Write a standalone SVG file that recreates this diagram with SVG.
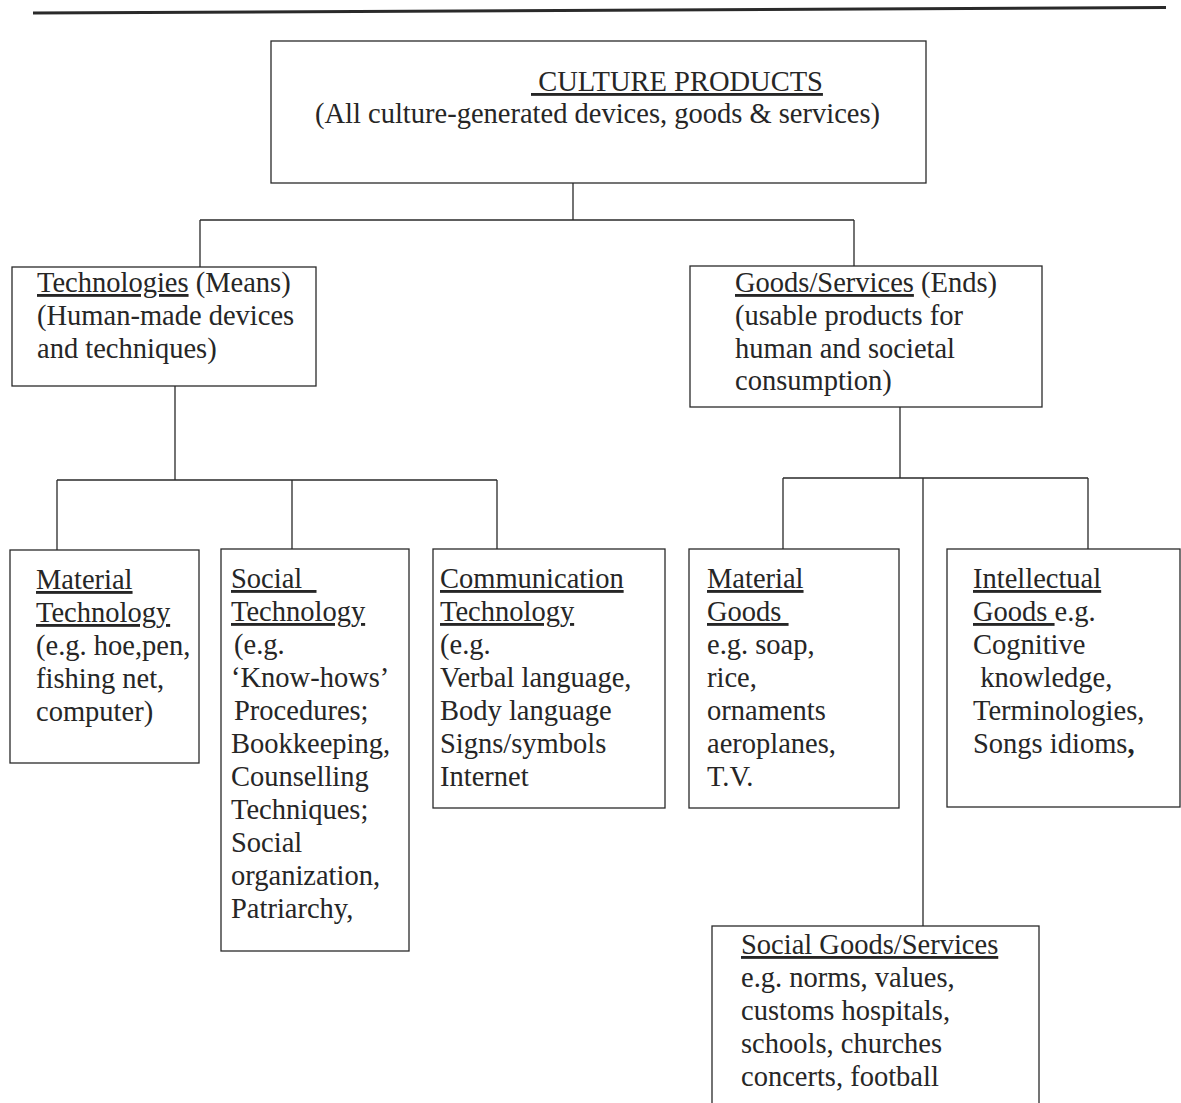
<svg xmlns="http://www.w3.org/2000/svg" width="1181" height="1103" viewBox="0 0 1181 1103">
<style>
.box{fill:#fff;stroke:#2a2a2a;stroke-width:1.3}
.conn{fill:none;stroke:#2a2a2a;stroke-width:1.3}
text{font-family:"Liberation Serif","Times New Roman",serif;font-size:28.5px;fill:#262626;white-space:pre}
.u{text-decoration:underline}
</style>
<rect width="1181" height="1103" fill="#fff"/>
<line x1="33" y1="13" x2="1166" y2="7.5" stroke="#2a2a2a" stroke-width="3"/>
<g id="connectors">
<path class="conn" d="M573 183V220M200 220H854M200 220V267M854 220V266"/>
<path class="conn" d="M175 386V480M57 480H497M57 480V550M292 480V549M497 480V549"/>
<path class="conn" d="M900 407V478M783 478H1088M783 478V549M1088 478V549M923 478V926"/>
</g>
<g id="culture-products">
<rect class="box" x="271" y="41" width="655" height="142"/>
<text x="531" y="91" class="u"> CULTURE PRODUCTS</text>
<text x="315" y="123">(All culture-generated devices, goods &amp; services)</text>
</g>
<g id="technologies">
<rect class="box" x="12" y="267" width="304" height="119"/>
<text x="37" y="292"><tspan class="u">Technologies</tspan> (Means)</text>
<text x="37" y="325">(Human-made devices</text>
<text x="37" y="358">and techniques)</text>
</g>
<g id="goods-services">
<rect class="box" x="690" y="266" width="352" height="141"/>
<text x="735" y="292"><tspan class="u">Goods/Services</tspan> (Ends)</text>
<text x="735" y="325">(usable products for</text>
<text x="735" y="358">human and societal</text>
<text x="735" y="390">consumption)</text>
</g>
<g id="material-technology">
<rect class="box" x="10" y="550" width="189" height="213"/>
<text x="36" y="589" class="u">Material</text>
<text x="36" y="622" class="u">Technology</text>
<text x="36" y="655">(e.g. hoe,pen,</text>
<text x="36" y="688">fishing net,</text>
<text x="36" y="721">computer)</text>
</g>
<g id="social-technology">
<rect class="box" x="221" y="549" width="188" height="402"/>
<text x="231" y="588" class="u">Social  </text>
<text x="231" y="621" class="u">Technology</text>
<text x="234" y="654">(e.g.</text>
<text x="231" y="687">‘Know-hows’</text>
<text x="234" y="720">Procedures;</text>
<text x="231" y="753">Bookkeeping,</text>
<text x="231" y="786">Counselling</text>
<text x="231" y="819">Techniques;</text>
<text x="231" y="852">Social</text>
<text x="231" y="885">organization,</text>
<text x="231" y="918">Patriarchy,</text>
</g>
<g id="communication-technology">
<rect class="box" x="433" y="549" width="232" height="259"/>
<text x="440" y="588" class="u">Communication</text>
<text x="440" y="621" class="u">Technology</text>
<text x="440" y="654">(e.g.</text>
<text x="440" y="687">Verbal language,</text>
<text x="440" y="720">Body language</text>
<text x="440" y="753">Signs/symbols</text>
<text x="440" y="786">Internet</text>
</g>
<g id="material-goods">
<rect class="box" x="689" y="549" width="210" height="259"/>
<text x="707" y="588" class="u">Material</text>
<text x="707" y="621" class="u">Goods </text>
<text x="707" y="654">e.g. soap,</text>
<text x="707" y="687">rice,</text>
<text x="707" y="720">ornaments</text>
<text x="707" y="753">aeroplanes,</text>
<text x="707" y="786">T.V.</text>
</g>
<g id="intellectual-goods">
<rect class="box" x="947" y="549" width="233" height="258"/>
<text x="973" y="588" class="u">Intellectual</text>
<text x="973" y="621"><tspan class="u">Goods </tspan>e.g.</text>
<text x="973" y="654">Cognitive</text>
<text x="973" y="687"> knowledge,</text>
<text x="973" y="720">Terminologies,</text>
<text x="973" y="753">Songs idioms<tspan font-weight="bold">,</tspan></text>
</g>
<g id="social-goods-services">
<rect class="box" x="712" y="926" width="327" height="200"/>
<text x="741" y="954" class="u">Social Goods/Services</text>
<text x="741" y="987">e.g. norms, values,</text>
<text x="741" y="1020">customs hospitals,</text>
<text x="741" y="1053">schools, churches</text>
<text x="741" y="1086">concerts, football</text>
</g>
</svg>
